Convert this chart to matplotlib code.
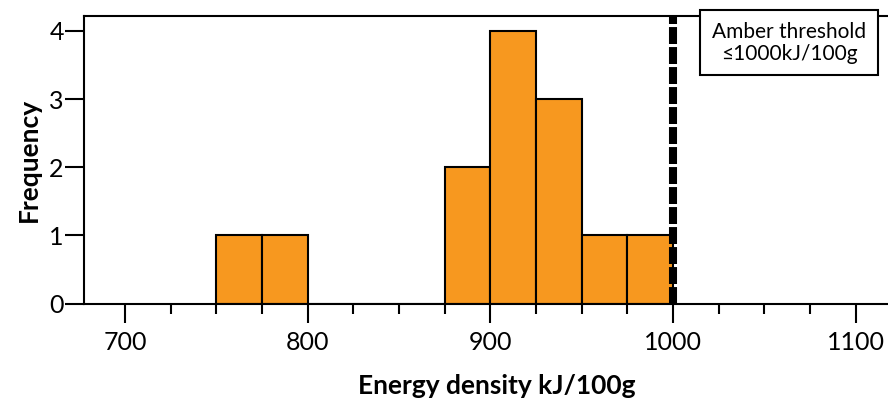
import matplotlib
matplotlib.use("Agg")
import matplotlib.pyplot as plt
from matplotlib.patches import Rectangle
from matplotlib.ticker import MultipleLocator

plt.rcParams['font.family'] = ['Lato', 'DejaVu Sans']
plt.rcParams['lines.scale_dashes'] = False

# Histogram bins (kJ/100g) and counts
bin_edges = [750, 775, 800, 825, 850, 875, 900, 925, 950, 975, 1000]
counts = [1, 1, 0, 0, 0, 2, 4, 3, 1, 1]
threshold = 1000
x_ticks = [700, 800, 900, 1000, 1100]
y_ticks = [0, 1, 2, 3, 4]

fig = plt.figure(figsize=(8.88, 4.05), dpi=100)
ax = fig.add_axes([84 / 888, 1 - 303.5 / 405, 826.3 / 888, 287.5 / 405])

widths = [b - a for a, b in zip(bin_edges[:-1], bin_edges[1:])]
ax.bar(bin_edges[:-1], counts, width=widths, align='edge',
       color='#F7981F', edgecolor='black', linewidth=1.5, zorder=2)

ax.axvline(threshold, color='black', linewidth=5.8, dashes=(12.2, 2.2), zorder=3)

ax.set_xlim(677.5, 1130)
ax.set_ylim(0, 4.22)
ax.set_xticks(x_ticks)
ax.xaxis.set_minor_locator(MultipleLocator(25))
ax.set_yticks(y_ticks)

for s in ax.spines.values():
    s.set_linewidth(1.5)
ax.tick_params(axis='both', which='major', length=13.5, width=1.5,
               labelsize=18)
ax.tick_params(axis='x', which='major', pad=6)
ax.tick_params(axis='x', which='minor', length=7, width=1.5)
ax.tick_params(axis='y', pad=1)

ax.set_xlabel('Energy density kJ/100g', fontsize=19, fontweight='bold', labelpad=15)
ax.set_ylabel('Frequency', fontsize=19, fontweight='bold', labelpad=6)

# Threshold annotation box
box = Rectangle((700 / 888, 1 - 75 / 405), 178 / 888, 65 / 405,
                transform=fig.transFigure, facecolor='white',
                edgecolor='black', linewidth=1.5, zorder=5)
fig.patches.append(box)
fig.text(789 / 888, 1 - 43 / 405, 'Amber threshold\n≤1000kJ/100g',
         ha='center', va='center', fontsize=15, linespacing=1.15, zorder=6)

fig.savefig('out.png', dpi=100)
